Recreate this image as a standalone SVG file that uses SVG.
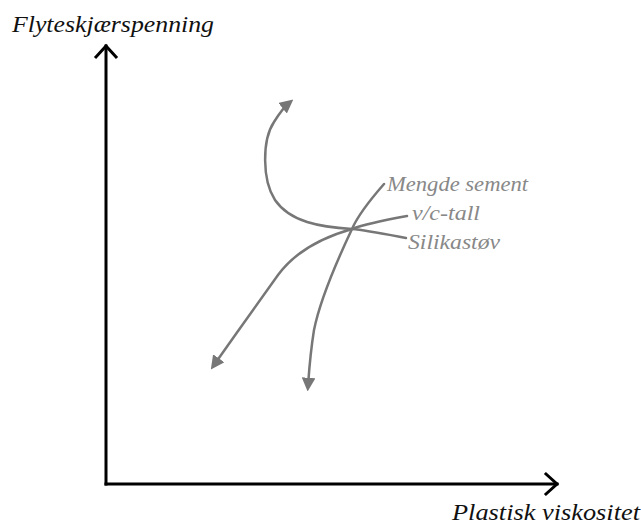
<svg xmlns="http://www.w3.org/2000/svg" width="641" height="524" viewBox="0 0 641 524">
<style>
.axis{fill:none;stroke:#000;stroke-width:3;stroke-linecap:square}
.ax-label{font-family:"Liberation Serif","DejaVu Serif",serif;font-style:italic;font-size:24px;fill:#111}
.curve{fill:none;stroke:#777;stroke-width:2.5;stroke-linecap:round}
.lbl{font-family:"Liberation Serif","DejaVu Serif",serif;font-style:italic;font-size:20px;fill:#888}
</style>
<defs>
<marker id="ah" viewBox="0 0 10 10" refX="6" refY="5" markerWidth="5.5" markerHeight="5.5" orient="auto" markerUnits="strokeWidth">
<path d="M0,0 L10,5 L0,10 Z" fill="#777"/>
</marker>
</defs>
<rect width="641" height="524" fill="#fff"/>
<g id="y-axis">
<path class="axis" d="M106,484 V46"/>
<path class="axis" d="M96,57 L106,46 L116,57"/>
<text class="ax-label" x="12" y="32" textLength="202" lengthAdjust="spacingAndGlyphs">Flyteskjærspenning</text>
</g>
<g id="x-axis">
<path class="axis" d="M106,484 H557"/>
<path class="axis" d="M546,474 L557,484 L546,494"/>
<text class="ax-label" x="452" y="520" textLength="188" lengthAdjust="spacingAndGlyphs">Plastisk viskositet</text>
</g>
<g id="connectors">
<path class="curve" d="M406,238 C385,234 365,230 352,229 C320,227 290,222 275,200 C262,180 262,140 274,122 C279,114 284,107 289,103" marker-end="url(#ah)"/>
<path class="curve" stroke-width="3" d="M407,216 C385,220 365,224 352,229 C320,238 295,252 278,275 C260,300 235,335 214,365" marker-end="url(#ah)"/>
<path class="curve" d="M384,184 C370,200 358,215 352,229 C335,265 320,300 314,330 C310,355 309,372 308,386" marker-end="url(#ah)"/>
</g>
<g id="labels">
<text class="lbl" x="387" y="191" textLength="141" lengthAdjust="spacingAndGlyphs">Mengde sement</text>
<text class="lbl" x="412" y="220" textLength="68" lengthAdjust="spacingAndGlyphs">v/c-tall</text>
<text class="lbl" x="408" y="249" textLength="92" lengthAdjust="spacingAndGlyphs">Silikastøv</text>
</g>
</svg>
